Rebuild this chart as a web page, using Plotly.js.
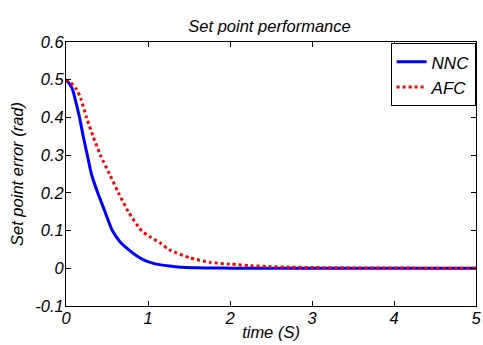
<!DOCTYPE html>
<html><head><meta charset="utf-8">
<script src="https://cdn.plot.ly/plotly-3.0.1.min.js"></script>
<style>html,body{margin:0;padding:0;background:#fff}#chart{width:483px;height:345px}</style>
</head><body><div id="chart"></div>
<script>
const nncTime = [0,0.04,0.08,0.11,0.165,0.21,0.26,0.31,0.387,0.476,0.565,0.66,0.76,0.86,0.965,1.1,1.26,1.4,1.6,1.8,2.0,5.0];
const nncError = [0.5,0.49,0.474,0.45,0.4,0.35,0.3,0.25,0.2,0.15,0.1,0.07,0.05,0.033,0.02,0.011,0.006,0.003,0.0015,0.0007,0.0003,0];
const afcTime = [0,0.06,0.13,0.18,0.25,0.33,0.42,0.53,0.64,0.76,0.92,1.02,1.15,1.26,1.51,1.75,2.0,2.25,2.49,2.74,3.0,3.5,5.0];
const afcError = [0.5,0.492,0.474,0.45,0.4,0.35,0.3,0.25,0.2,0.15,0.1,0.084,0.067,0.049,0.028,0.016,0.011,0.007,0.0045,0.003,0.002,0.001,0];
const yTickVals = [-0.1,0,0.1,0.2,0.3,0.4,0.5,0.6];
const yTickText = ["-0.1","0","0.1","0.2","0.3","0.4","0.5","0.6"];
const xTickVals = [0,1,2,3,4,5];
const xTickText = ["0","1","2","3","4","5"];

const fam = "Liberation Sans, Arial, sans-serif";
const f = {family: fam, size: 16.5, color: "#000", style: "italic"};
const traces = [
  {x: nncTime, y: nncError, name: "NNC", type: "scatter", mode: "lines",
   line: {color: "#0000ff", width: 3, shape: "spline", smoothing: 0.6}},
  {x: afcTime, y: afcError, name: "AFC", type: "scatter", mode: "lines",
   line: {color: "#ff0000", width: 3, dash: "dot", shape: "spline", smoothing: 0.6}}
];
const layout = {
  width: 483, height: 345,
  margin: {l: 66, r: 7, t: 42, b: 39, pad: 0},
  paper_bgcolor: "#fff", plot_bgcolor: "#fff",
  font: f,
  title: {text: "Set point performance", font: {family: fam, size: 16.5, color: "#000", style: "italic"},
          x: 0.558, xanchor: "center", y: 0.94, yanchor: "top"},
  showlegend: true,
  legend: {x: 0.999, xanchor: "right", y: 0.995, yanchor: "top", bordercolor: "#000", borderwidth: 1,
           bgcolor: "#fff", font: {family: fam, size: 17, color: "#000", style: "italic"},
           tracegroupgap: 0, itemwidth: 30},
  xaxis: {range: [0, 5], tickvals: xTickVals, ticktext: xTickText, ticks: "inside", ticklen: 5,
          tickcolor: "#000", showline: true, linecolor: "#000", linewidth: 1, mirror: "ticks",
          showgrid: false, zeroline: false, tickfont: f, ticklabelstandoff: -3,
          title: {text: "time (S)", font: f, standoff: 0}},
  yaxis: {range: [-0.1, 0.6], tickvals: yTickVals, ticktext: yTickText, ticks: "inside", ticklen: 5,
          tickcolor: "#000", showline: true, linecolor: "#000", linewidth: 1, mirror: "ticks",
          showgrid: false, zeroline: false, tickfont: f, ticklabelstandoff: -2,
          title: {text: "Set point error (rad)", font: f, standoff: 7}}
};
Plotly.newPlot("chart", traces, layout, {staticPlot: true, displayModeBar: false});
</script></body></html>
